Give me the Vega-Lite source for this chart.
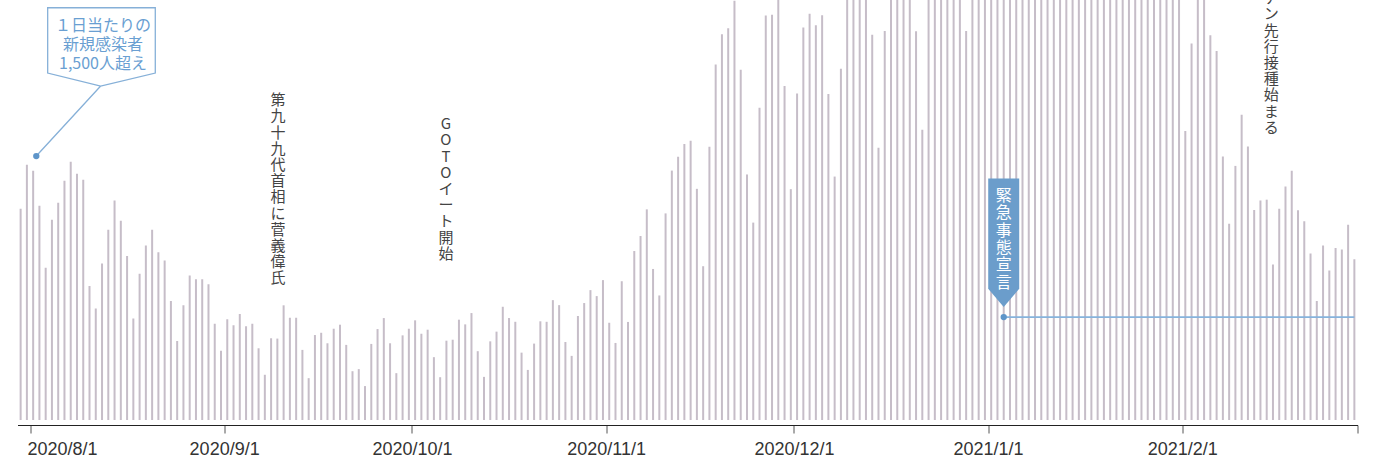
{
  "$schema": "https://vega.github.io/schema/vega-lite/v6.json",
  "width": 1340,
  "height": 420,
  "autosize": {"type": "none"},
  "padding": {"left": 17.5, "top": 0, "right": 22.5, "bottom": 42},
  "background": "white",
  "config": {"view": {"stroke": null}},
  "datasets": {
    "cases": [
      {"d":"2020/07/30","v":1308},{"d":"2020/07/31","v":1580},{"d":"2020/08/01","v":1543},{"d":"2020/08/02","v":1327},{"d":"2020/08/03","v":942},{"d":"2020/08/04","v":1240},{"d":"2020/08/05","v":1345},{"d":"2020/08/06","v":1481},{"d":"2020/08/07","v":1598},{"d":"2020/08/08","v":1524},{"d":"2020/08/09","v":1487},{"d":"2020/08/10","v":829},{"d":"2020/08/11","v":691},{"d":"2020/08/12","v":969},{"d":"2020/08/13","v":1178},{"d":"2020/08/14","v":1359},{"d":"2020/08/15","v":1234},{"d":"2020/08/16","v":1016},{"d":"2020/08/17","v":629},{"d":"2020/08/18","v":905},{"d":"2020/08/19","v":1080},{"d":"2020/08/20","v":1178},{"d":"2020/08/21","v":1038},{"d":"2020/08/22","v":987},{"d":"2020/08/23","v":736},{"d":"2020/08/24","v":489},{"d":"2020/08/25","v":710},{"d":"2020/08/26","v":895},{"d":"2020/08/27","v":872},{"d":"2020/08/28","v":872},{"d":"2020/08/29","v":841},{"d":"2020/08/30","v":596},{"d":"2020/08/31","v":428},
      {"d":"2020/09/01","v":623},{"d":"2020/09/02","v":586},{"d":"2020/09/03","v":656},{"d":"2020/09/04","v":580},{"d":"2020/09/05","v":596},{"d":"2020/09/06","v":444},{"d":"2020/09/07","v":280},{"d":"2020/09/08","v":506},{"d":"2020/09/09","v":504},{"d":"2020/09/10","v":710},{"d":"2020/09/11","v":633},{"d":"2020/09/12","v":633},{"d":"2020/09/13","v":434},{"d":"2020/09/14","v":259},{"d":"2020/09/15","v":526},{"d":"2020/09/16","v":540},{"d":"2020/09/17","v":475},{"d":"2020/09/18","v":565},{"d":"2020/09/19","v":590},{"d":"2020/09/20","v":465},{"d":"2020/09/21","v":302},{"d":"2020/09/22","v":315},{"d":"2020/09/23","v":210},{"d":"2020/09/24","v":471},{"d":"2020/09/25","v":563},{"d":"2020/09/26","v":631},{"d":"2020/09/27","v":475},{"d":"2020/09/28","v":290},{"d":"2020/09/29","v":524},{"d":"2020/09/30","v":565},
      {"d":"2020/10/01","v":617},{"d":"2020/10/02","v":534},{"d":"2020/10/03","v":559},{"d":"2020/10/04","v":389},{"d":"2020/10/05","v":265},{"d":"2020/10/06","v":491},{"d":"2020/10/07","v":497},{"d":"2020/10/08","v":621},{"d":"2020/10/09","v":592},{"d":"2020/10/10","v":662},{"d":"2020/10/11","v":426},{"d":"2020/10/12","v":267},{"d":"2020/10/13","v":487},{"d":"2020/10/14","v":547},{"d":"2020/10/15","v":701},{"d":"2020/10/16","v":631},{"d":"2020/10/17","v":608},{"d":"2020/10/18","v":417},{"d":"2020/10/19","v":310},{"d":"2020/10/20","v":473},{"d":"2020/10/21","v":611},{"d":"2020/10/22","v":608},{"d":"2020/10/23","v":742},{"d":"2020/10/24","v":711},{"d":"2020/10/25","v":483},{"d":"2020/10/26","v":397},{"d":"2020/10/27","v":644},{"d":"2020/10/28","v":724},{"d":"2020/10/29","v":804},{"d":"2020/10/30","v":767},{"d":"2020/10/31","v":866},
      {"d":"2020/11/01","v":602},{"d":"2020/11/02","v":477},{"d":"2020/11/03","v":859},{"d":"2020/11/04","v":607},{"d":"2020/11/05","v":1046},{"d":"2020/11/06","v":1139},{"d":"2020/11/07","v":1304},{"d":"2020/11/08","v":935},{"d":"2020/11/09","v":771},{"d":"2020/11/10","v":1279},{"d":"2020/11/11","v":1544},{"d":"2020/11/12","v":1629},{"d":"2020/11/13","v":1709},{"d":"2020/11/14","v":1728},{"d":"2020/11/15","v":1431},{"d":"2020/11/16","v":952},{"d":"2020/11/17","v":1691},{"d":"2020/11/18","v":2201},{"d":"2020/11/19","v":2388},{"d":"2020/11/20","v":2425},{"d":"2020/11/21","v":2596},{"d":"2020/11/22","v":2168},{"d":"2020/11/23","v":1520},{"d":"2020/11/24","v":1222},{"d":"2020/11/25","v":1933},{"d":"2020/11/26","v":2504},{"d":"2020/11/27","v":2508},{"d":"2020/11/28","v":2684},{"d":"2020/11/29","v":2067},{"d":"2020/11/30","v":1429},
      {"d":"2020/12/01","v":2021},{"d":"2020/12/02","v":2429},{"d":"2020/12/03","v":2515},{"d":"2020/12/04","v":2443},{"d":"2020/12/05","v":2505},{"d":"2020/12/06","v":2018},{"d":"2020/12/07","v":1507},{"d":"2020/12/08","v":2174},{"d":"2020/12/09","v":2810},{"d":"2020/12/10","v":2973},{"d":"2020/12/11","v":2788},{"d":"2020/12/12","v":3041},{"d":"2020/12/13","v":2385},{"d":"2020/12/14","v":1686},{"d":"2020/12/15","v":2408},{"d":"2020/12/16","v":3017},{"d":"2020/12/17","v":3211},{"d":"2020/12/18","v":2834},{"d":"2020/12/19","v":2992},{"d":"2020/12/20","v":2406},{"d":"2020/12/21","v":1797},{"d":"2020/12/22","v":2678},{"d":"2020/12/23","v":3271},{"d":"2020/12/24","v":3740},{"d":"2020/12/25","v":3829},{"d":"2020/12/26","v":3881},{"d":"2020/12/27","v":2948},{"d":"2020/12/28","v":2408},{"d":"2020/12/29","v":3603},{"d":"2020/12/30","v":3852},{"d":"2020/12/31","v":4520},
      {"d":"2021/01/01","v":3245},{"d":"2021/01/02","v":3059},{"d":"2021/01/03","v":3158},{"d":"2021/01/04","v":3325},{"d":"2021/01/05","v":4915},{"d":"2021/01/06","v":6004},{"d":"2021/01/07","v":7570},{"d":"2021/01/08","v":7882},{"d":"2021/01/09","v":7790},{"d":"2021/01/10","v":6094},{"d":"2021/01/11","v":4876},{"d":"2021/01/12","v":4537},{"d":"2021/01/13","v":5875},{"d":"2021/01/14","v":6605},{"d":"2021/01/15","v":7133},{"d":"2021/01/16","v":7014},{"d":"2021/01/17","v":5759},{"d":"2021/01/18","v":4925},{"d":"2021/01/19","v":5320},{"d":"2021/01/20","v":5654},{"d":"2021/01/21","v":5701},{"d":"2021/01/22","v":5045},{"d":"2021/01/23","v":4714},{"d":"2021/01/24","v":3990},{"d":"2021/01/25","v":3407},{"d":"2021/01/26","v":3853},{"d":"2021/01/27","v":3961},{"d":"2021/01/28","v":4132},{"d":"2021/01/29","v":3538},{"d":"2021/01/30","v":3336},{"d":"2021/01/31","v":2676},
      {"d":"2021/02/01","v":1789},{"d":"2021/02/02","v":2330},{"d":"2021/02/03","v":2631},{"d":"2021/02/04","v":2600},{"d":"2021/02/05","v":2382},{"d":"2021/02/06","v":2285},{"d":"2021/02/07","v":1631},{"d":"2021/02/08","v":1215},{"d":"2021/02/09","v":1573},{"d":"2021/02/10","v":1890},{"d":"2021/02/11","v":1693},{"d":"2021/02/12","v":1300},{"d":"2021/02/13","v":1359},{"d":"2021/02/14","v":1364},{"d":"2021/02/15","v":962},{"d":"2021/02/16","v":1308},{"d":"2021/02/17","v":1446},{"d":"2021/02/18","v":1543},{"d":"2021/02/19","v":1298},{"d":"2021/02/20","v":1230},{"d":"2021/02/21","v":1030},{"d":"2021/02/22","v":736},{"d":"2021/02/23","v":1080},{"d":"2021/02/24","v":926},{"d":"2021/02/25","v":1065},{"d":"2021/02/26","v":1055},{"d":"2021/02/27","v":1209},{"d":"2021/02/28","v":995}
    ],
    "notes": [
      {"d":"2020/09/09 14:00","v":2023,"t":"第\n九\n十\n九\n代\n首\n相\nに\n菅\n義\n偉\n氏"},
      {"d":"2020/10/06 10:00","v":1875,"t":"G\nO\nT\nO\nイ\nー\nト\n開\n始"},
      {"d":"2021/02/15 05:00","v":2855,"t":"ワ\nク\nチ\nン\n先\n行\n接\n種\n始\nま\nる"}
    ],
    "callout": [
      {"d":"2020/08/02 00:00","v":1634,"t":"１日当たりの\n新規感染者\n1,500人超え"}
    ],
    "emergency": [
      {"d":"2021/01/03 12:00","d2":"2021/02/28 12:00","v":637,"t":"緊\n急\n事\n態\n宣\n言"}
    ]
  },
  "layer": [
    {
      "data": {"name": "cases"},
      "mark": {"type": "rule", "strokeWidth": 2, "color": "#c6bdc8", "clip": true},
      "encoding": {
        "x": {
          "field": "d", "type": "temporal", "timeUnit": "yearmonthdate", "bandPosition": 0.5,
          "scale": {"domain": [{"year": 2020, "month": 7, "date": 30}, {"year": 2021, "month": 3, "date": 1}]},
          "axis": {
            "title": null,
            "values": [{"year":2020,"month":8,"date":1},{"year":2020,"month":9,"date":1},{"year":2020,"month":10,"date":1},{"year":2020,"month":11,"date":1},{"year":2020,"month":12,"date":1},{"year":2021,"month":1,"date":1},{"year":2021,"month":2,"date":1},{"year":2021,"month":3,"date":1}],
            "format": "%Y/%-m/%-d",
            "labelExpr": "datum.value > datetime(2021,1,15) ? '' : datum.label",
            "grid": false,
            "offset": 5,
            "domainColor": "#222222",
            "domainWidth": 1.2,
            "tickColor": "#555555",
            "tickSize": 8,
            "tickWidth": 1,
            "labelFont": "Liberation Sans, Arial, sans-serif",
            "labelFontSize": 18,
            "labelColor": "#333333",
            "labelPadding": 7,
            "labelOverlap": false,
            "labelFlush": 15,
            "labelFlushOffset": 3
          }
        },
        "y": {"field": "v", "type": "quantitative", "scale": {"domain": [0, 2590]}, "axis": null},
        "y2": {"datum": 0}
      }
    },
    {
      "data": {"name": "notes"},
      "mark": {"type": "text", "font": "Noto Sans CJK JP", "fontSize": 15, "color": "#444444", "baseline": "top", "align": "center", "lineBreak": "\n", "lineHeight": 16.2},
      "encoding": {
        "x": {"field": "d", "type": "temporal"},
        "y": {"field": "v", "type": "quantitative"},
        "text": {"field": "t"}
      }
    },
    {
      "data": {"name": "callout"},
      "mark": {"type": "point", "shape": "M11.4,-148.3L119,-148.3L119,-83L64.4,-70L11.4,-83Z M0,0L64.4,-70", "size": 4, "filled": false, "fill": "white", "stroke": "#86b0d8", "strokeWidth": 1.3, "opacity": 1},
      "encoding": {
        "x": {"field": "d", "type": "temporal"},
        "y": {"field": "v", "type": "quantitative"}
      }
    },
    {
      "data": {"name": "callout"},
      "mark": {"type": "point", "shape": "circle", "size": 40, "filled": true, "color": "#5e95c9", "opacity": 1},
      "encoding": {
        "x": {"field": "d", "type": "temporal"},
        "y": {"field": "v", "type": "quantitative"}
      }
    },
    {
      "data": {"name": "callout"},
      "mark": {"type": "text", "font": "Noto Sans CJK JP", "fontSize": 16, "color": "#6a9fd2", "baseline": "top", "align": "center", "lineBreak": "\n", "lineHeight": 19.3, "dx": 66.7, "dy": -138.5},
      "encoding": {
        "x": {"field": "d", "type": "temporal"},
        "y": {"field": "v", "type": "quantitative"},
        "text": {"field": "t"}
      }
    },
    {
      "data": {"name": "emergency"},
      "mark": {"type": "rule", "color": "#86b3dc", "strokeWidth": 1.6},
      "encoding": {
        "x": {"field": "d", "type": "temporal"},
        "x2": {"field": "d2"},
        "y": {"field": "v", "type": "quantitative"}
      }
    },
    {
      "data": {"name": "emergency"},
      "mark": {"type": "point", "shape": "M-15.5,-138.7L15.5,-138.7L15.5,-28.3L0,-10L-15.5,-28.3Z", "size": 4, "filled": true, "color": "#6b9dcb", "opacity": 1},
      "encoding": {
        "x": {"field": "d", "type": "temporal"},
        "y": {"field": "v", "type": "quantitative"}
      }
    },
    {
      "data": {"name": "emergency"},
      "mark": {"type": "point", "shape": "circle", "size": 40, "filled": true, "color": "#5e95c9", "opacity": 1},
      "encoding": {
        "x": {"field": "d", "type": "temporal"},
        "y": {"field": "v", "type": "quantitative"}
      }
    },
    {
      "data": {"name": "emergency"},
      "mark": {"type": "text", "font": "Noto Sans CJK JP", "fontSize": 16, "color": "white", "baseline": "top", "align": "center", "lineBreak": "\n", "lineHeight": 17.3, "dy": -129},
      "encoding": {
        "x": {"field": "d", "type": "temporal"},
        "y": {"field": "v", "type": "quantitative"},
        "text": {"field": "t"}
      }
    }
  ]
}
